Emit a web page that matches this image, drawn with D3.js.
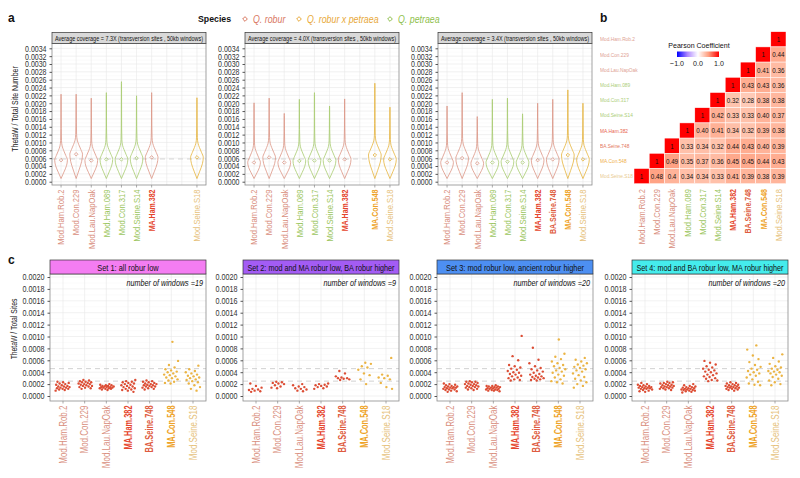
<!DOCTYPE html>
<html>
<head>
<meta charset="utf-8" />
<title>ThetaW diversity</title>
<script src="https://d3js.org/d3.v7.min.js"></script>
<style>
body { margin: 0; background: white; }
svg { display: block; font-family: "Liberation Sans", Arial, sans-serif; }
.gmaj { stroke: #e8e8e8; stroke-width: 0.6; }
.gmin { stroke: #f4f4f4; stroke-width: 0.4; }
.tick text { fill: #333; }
.tick line { stroke: #555; }
</style>
</head>
<body>
<div id="chart"></div>
<script>
// sample order used in panels a and b
var samples = ["Mod.Ham.Rob.2", "Mod.Con.229", "Mod.Lau.NapOak", "Mod.Ham.089", "Mod.Con.317",
               "Mod.Seine.S14", "MA.Ham.382", "BA.Seine.748", "MA.Con.548", "Mod.Seine.S18"];
// panel c only uses the robur and hybrid samples
var setSamples = ["Mod.Ham.Rob.2", "Mod.Con.229", "Mod.Lau.NapOak", "MA.Ham.382", "BA.Seine.748", "MA.Con.548", "Mod.Seine.S18"];

var speciesNames = ["Q. robur", "Q. robur x petraea", "Q. petraea"];

// panel a : one entry per coverage, null = sample absent
var coverages = ["7.3X", "4.0X", "3.4X"];
var violinMean = [
  [0.00055, 0.00070, 0.00054, 0.00057, 0.00057, 0.00060, 0.00062, null, null, 0.00062],
  [0.00049, 0.00062, 0.00049, 0.00053, 0.00054, 0.00054, 0.00057, null, 0.00068, 0.00057],
  [0.00049, 0.00060, 0.00047, 0.00049, 0.00051, 0.00049, 0.00055, 0.00057, 0.00068, 0.00057]
];
var violinMax = [
  [0.00223, 0.00223, 0.00213, 0.00227, 0.00255, 0.00219, 0.00227, null, null, 0.00214],
  [0.00201, 0.00213, 0.00174, 0.00210, 0.00227, 0.00193, 0.00211, null, 0.00251, 0.00190],
  [0.00193, 0.00227, 0.00166, 0.00210, 0.00213, 0.00173, 0.00200, 0.00210, 0.00234, 0.00200]
];
var violinMin = 0.00008;
var refLineA = 0.00058;

// panel b : lower triangle, row r starts at column 9 - r
var corrRows = [
  ["1"],
  ["1", "0.44"],
  ["1", "0.41", "0.36"],
  ["1", "0.43", "0.43", "0.36"],
  ["1", "0.32", "0.28", "0.38", "0.38"],
  ["1", "0.42", "0.33", "0.33", "0.40", "0.37"],
  ["1", "0.40", "0.41", "0.34", "0.32", "0.39", "0.38"],
  ["1", "0.33", "0.34", "0.32", "0.44", "0.43", "0.40", "0.39"],
  ["1", "0.49", "0.35", "0.37", "0.36", "0.45", "0.45", "0.44", "0.43"],
  ["1", "0.48", "0.4", "0.34", "0.34", "0.33", "0.41", "0.39", "0.38", "0.39"]
];

// panel c
var setTitles = ["Set 1: all robur low", "Set 2: mod and MA robur low, BA robur higher",
                 "Set 3: mod robur low, ancient robur higher", "Set 4: mod and BA robur low, MA robur higher"];
var setWindows = [19, 9, 20, 20];
var refLinesC = [0.00046, 0.00025];

var set1 = [
  [0.00009,0.00010,0.00011,0.00012,0.00012,0.00013,0.00014,0.00014,0.00015,0.00016,0.00016,0.00017,0.00018,0.00019,0.00020,0.00021,0.00022,0.00023,0.00024],
  [0.00012,0.00013,0.00014,0.00015,0.00016,0.00017,0.00017,0.00018,0.00019,0.00020,0.00020,0.00021,0.00022,0.00023,0.00023,0.00024,0.00025,0.00026,0.00027],
  [0.00010,0.00011,0.00012,0.00012,0.00013,0.00013,0.00014,0.00014,0.00015,0.00015,0.00015,0.00016,0.00016,0.00017,0.00017,0.00018,0.00018,0.00019,0.00020],
  [0.00007,0.00009,0.00010,0.00011,0.00012,0.00013,0.00014,0.00015,0.00016,0.00017,0.00018,0.00019,0.00020,0.00021,0.00022,0.00023,0.00024,0.00025,0.00027],
  [0.00011,0.00012,0.00013,0.00014,0.00015,0.00016,0.00016,0.00017,0.00018,0.00018,0.00019,0.00020,0.00020,0.00021,0.00022,0.00023,0.00024,0.00025,0.00026],
  [0.00021,0.00022,0.00024,0.00026,0.00028,0.00030,0.00031,0.00033,0.00035,0.00036,0.00038,0.00040,0.00041,0.00043,0.00045,0.00048,0.00052,0.00059,0.00091],
  [0.00009,0.00012,0.00015,0.00018,0.00021,0.00023,0.00025,0.00027,0.00028,0.00030,0.00031,0.00033,0.00034,0.00036,0.00038,0.00040,0.00042,0.00045,0.00051]
];
var set2 = [
  [0.00007,0.00008,0.00009,0.00010,0.00011,0.00012,0.00014,0.00017,0.00021],
  [0.00013,0.00014,0.00016,0.00018,0.00020,0.00021,0.00022,0.00023,0.00024],
  [0.00008,0.00009,0.00011,0.00012,0.00013,0.00015,0.00016,0.00018,0.00020],
  [0.00012,0.00013,0.00015,0.00016,0.00017,0.00018,0.00019,0.00020,0.00021],
  [0.00027,0.00028,0.00029,0.00030,0.00030,0.00031,0.00033,0.00038,0.00042],
  [0.00020,0.00028,0.00035,0.00038,0.00044,0.00048,0.00050,0.00054,0.00056],
  [0.00012,0.00015,0.00022,0.00028,0.00030,0.00031,0.00034,0.00036,0.00064]
];
var set3 = [
  [0.00007,0.00008,0.00009,0.00010,0.00011,0.00011,0.00012,0.00013,0.00013,0.00014,0.00014,0.00015,0.00015,0.00016,0.00016,0.00017,0.00018,0.00019,0.00020,0.00021],
  [0.00010,0.00011,0.00012,0.00013,0.00014,0.00015,0.00015,0.00016,0.00017,0.00017,0.00018,0.00019,0.00020,0.00020,0.00021,0.00022,0.00023,0.00024,0.00024,0.00025],
  [0.00008,0.00009,0.00009,0.00010,0.00010,0.00011,0.00011,0.00012,0.00012,0.00013,0.00013,0.00014,0.00014,0.00015,0.00015,0.00016,0.00016,0.00017,0.00017,0.00018],
  [0.00026,0.00027,0.00028,0.00030,0.00031,0.00033,0.00034,0.00036,0.00037,0.00039,0.00040,0.00042,0.00044,0.00046,0.00048,0.00050,0.00052,0.00060,0.00067,0.00101],
  [0.00026,0.00027,0.00028,0.00029,0.00030,0.00031,0.00032,0.00033,0.00034,0.00036,0.00037,0.00039,0.00041,0.00043,0.00045,0.00047,0.00050,0.00055,0.00061,0.00081],
  [0.00021,0.00023,0.00025,0.00028,0.00031,0.00034,0.00036,0.00039,0.00041,0.00043,0.00045,0.00047,0.00050,0.00052,0.00055,0.00058,0.00062,0.00066,0.00071,0.00095],
  [0.00014,0.00017,0.00020,0.00023,0.00026,0.00029,0.00032,0.00035,0.00038,0.00041,0.00043,0.00045,0.00047,0.00049,0.00051,0.00053,0.00055,0.00058,0.00061,0.00064]
];
var set4 = [
  [0.00007,0.00008,0.00009,0.00010,0.00011,0.00012,0.00012,0.00013,0.00013,0.00014,0.00014,0.00015,0.00015,0.00016,0.00017,0.00017,0.00018,0.00019,0.00020,0.00022],
  [0.00010,0.00011,0.00012,0.00013,0.00013,0.00014,0.00015,0.00015,0.00016,0.00016,0.00017,0.00018,0.00018,0.00019,0.00020,0.00021,0.00022,0.00022,0.00023,0.00024],
  [0.00006,0.00007,0.00008,0.00009,0.00009,0.00010,0.00010,0.00011,0.00011,0.00012,0.00012,0.00013,0.00013,0.00014,0.00015,0.00015,0.00016,0.00017,0.00018,0.00020],
  [0.00025,0.00026,0.00027,0.00029,0.00030,0.00032,0.00033,0.00035,0.00036,0.00038,0.00040,0.00041,0.00043,0.00044,0.00046,0.00048,0.00050,0.00053,0.00056,0.00059],
  [0.00009,0.00010,0.00011,0.00012,0.00012,0.00013,0.00014,0.00014,0.00015,0.00015,0.00016,0.00016,0.00017,0.00018,0.00018,0.00019,0.00020,0.00021,0.00022,0.00023],
  [0.00018,0.00019,0.00021,0.00024,0.00028,0.00031,0.00034,0.00036,0.00038,0.00040,0.00042,0.00044,0.00046,0.00049,0.00052,0.00057,0.00062,0.00068,0.00078,0.00085],
  [0.00018,0.00020,0.00023,0.00026,0.00029,0.00032,0.00034,0.00036,0.00038,0.00040,0.00041,0.00042,0.00044,0.00046,0.00048,0.00050,0.00054,0.00058,0.00064,0.00070]
];
var setValues = [set1, set2, set3, set4];

/* colours */
var speciesOf = {
  "Mod.Ham.Rob.2": "robur", "Mod.Con.229": "robur", "Mod.Lau.NapOak": "robur",
  "Mod.Ham.089": "petraea", "Mod.Con.317": "petraea", "Mod.Seine.S14": "petraea",
  "MA.Ham.382": "robur", "BA.Seine.748": "robur", "MA.Con.548": "hybrid", "Mod.Seine.S18": "hybrid"
};
var violinColour = { robur: "#dc9585", hybrid: "#e6b43c", petraea: "#a8cc70" };
var legendColour = ["#d9775f", "#e8a93a", "#8fbf4d"];
var labelColour = {
  "Mod.Ham.Rob.2": "#d98f80", "Mod.Con.229": "#d98f80", "Mod.Lau.NapOak": "#d98f80",
  "Mod.Ham.089": "#9cc660", "Mod.Con.317": "#9cc660", "Mod.Seine.S14": "#9cc660",
  "MA.Ham.382": "#e5452c", "BA.Seine.748": "#de5c40", "MA.Con.548": "#eea328", "Mod.Seine.S18": "#e6c27c"
};
function isAncient(s) { return s.indexOf("MA.") === 0 || s.indexOf("BA.") === 0; }
var dotColour = function (s) { return speciesOf[s] === "hybrid" ? "#ebb444" : "#dc4d34"; };
var stripColour = ["#f47df2", "#a35cf4", "#4d8ff2", "#45ecec"];

// the figure's type is narrow: squeeze each text along its baseline
function condense(sel, f) {
  sel.each(function () {
    var len = this.getComputedTextLength();
    d3.select(this).attr("textLength", len * f).attr("lengthAdjust", "spacingAndGlyphs");
  });
  return sel;
}

var W = 800, H = 478;
var svg = d3.select("#chart").append("svg").attr("width", W).attr("height", H);
svg.append("rect").attr("width", W).attr("height", H).attr("fill", "white");

/* panel letters */
[["a", 8, 22], ["b", 600, 22], ["c", 8, 264]].forEach(function (p) {
  svg.append("text").attr("x", p[1]).attr("y", p[2]).text(p[0])
    .style("font-weight", "bold").style("font-size", "12px").attr("fill", "#111");
});

/* species legend */
var leg = svg.append("g");
condense(leg.append("text").attr("x", 198).attr("y", 22).text("Species")
  .style("font-weight", "bold").style("font-size", "9.5px").attr("fill", "#111"), 0.92);
var legX = [245, 299, 390];
speciesNames.forEach(function (n, i) {
  leg.append("path").attr("d", d3.symbol(d3.symbolDiamond2, 14)())
    .attr("transform", "translate(" + legX[i] + ",19)")
    .attr("fill", "none").attr("stroke", legendColour[i]).attr("stroke-width", 1);
  condense(leg.append("text").attr("x", legX[i] + 8).attr("y", 22.5).text(n)
    .style("font-style", "italic").style("font-size", "10.5px").attr("fill", legendColour[i]), 0.84);
});

function rotLabel(g, s, x, y, size) {
  var t = g.append("text").attr("transform", "translate(" + x + "," + y + ") rotate(-90)")
    .attr("text-anchor", "end").attr("dy", "0.35em").text(s)
    .style("font-size", size + "px")
    .style("font-weight", isAncient(s) ? "bold" : "normal")
    .attr("fill", labelColour[s]);
  condense(t, isAncient(s) ? 0.74 : 0.8);
}

function drawFrame(g, left, right, top, bottom, y, ticks, minors, x, cats) {
  minors.forEach(function (v) {
    g.append("line").attr("class", "gmin").attr("x1", left).attr("x2", right).attr("y1", y(v)).attr("y2", y(v));
  });
  ticks.forEach(function (v) {
    g.append("line").attr("class", "gmaj").attr("x1", left).attr("x2", right).attr("y1", y(v)).attr("y2", y(v));
  });
  cats.forEach(function (c) {
    g.append("line").attr("class", "gmaj").attr("x1", x(c)).attr("x2", x(c)).attr("y1", top).attr("y2", bottom);
  });
}

/* ---------- panel a : violins ---------- */
var aLeft = [52, 245, 438], aWidth = 154, aTop = 43.5, aBottom = 185;
var yA = d3.scaleLinear().domain([0, 0.0034]).range([181.7, 48.3]);
var aTicks = d3.range(0, 0.00341, 0.0002);
var aMinor = d3.range(0.0001, 0.0034, 0.0002);
// relative width above the mode (offset in ThetaW units, fraction of max width)
var upperShape = [[0.00012, 0.74], [0.00025, 0.40], [0.00036, 0.17], [0.0005, 0.07], [0.0008, 0.03]];
var lowerShape = [[0, 0], [0.35, 0.45], [0.7, 0.86], [1, 1]];

coverages.forEach(function (cov, p) {
  var left = aLeft[p], right = left + aWidth;
  var g = svg.append("g");
  var x = d3.scalePoint().domain(samples).range([left, right]).padding(0.6);
  drawFrame(g, left, right, aTop, aBottom, yA, aTicks, aMinor, x, samples);
  g.append("line").attr("x1", left).attr("x2", right).attr("y1", yA(refLineA)).attr("y2", yA(refLineA))
    .attr("stroke", "#cfcfcf").attr("stroke-width", 0.9).attr("stroke-dasharray", "5,4");

  var half = x.step() * 0.42;
  samples.forEach(function (s, i) {
    var m = violinMean[p][i], mx = violinMax[p][i];
    if (m === null) return;
    var pts = lowerShape.map(function (d) { return { v: violinMin + d[0] * (m - violinMin), w: d[1] }; });
    upperShape.forEach(function (d) { pts.push({ v: m + d[0], w: d[1] }); });
    pts.push({ v: mx - 0.00005, w: 0.015 });
    pts.push({ v: mx, w: 0 });
    var area = d3.area().y(function (d) { return yA(d.v); })
      .x0(function (d) { return x(s) - half * d.w; })
      .x1(function (d) { return x(s) + half * d.w; })
      .curve(d3.curveMonotoneY);
    var col = violinColour[speciesOf[s]];
    g.append("path").attr("d", area(pts)).attr("fill", "none").attr("stroke", col).attr("stroke-width", 0.8);
    g.append("path").attr("d", d3.symbol(d3.symbolDiamond2, 8)())
      .attr("transform", "translate(" + x(s) + "," + yA(m) + ")")
      .attr("fill", "none").attr("stroke", col).attr("stroke-width", 0.8);
    g.append("line").attr("x1", x(s)).attr("x2", x(s)).attr("y1", aBottom).attr("y2", aBottom + 2.5).attr("stroke", "#555").attr("stroke-width", 0.5);
    rotLabel(g, s, x(s), aBottom + 4.5, 9.5);
  });
  g.append("rect").attr("x", left).attr("y", aTop).attr("width", aWidth).attr("height", aBottom - aTop)
    .attr("fill", "none").attr("stroke", "#8c8c8c").attr("stroke-width", 0.8);
  // strip
  g.append("rect").attr("x", left).attr("y", 32.5).attr("width", aWidth).attr("height", 11)
    .attr("fill", "#d9d9d9").attr("stroke", "#333").attr("stroke-width", 0.7);
  g.append("text").attr("x", left + 3).attr("y", 41)
    .attr("textLength", aWidth - 6).attr("lengthAdjust", "spacingAndGlyphs")
    .text("Average coverage = " + cov + " (transversion sites , 50kb windows)")
    .style("font-size", "7.5px").attr("fill", "#111");
  var ax = g.append("g").attr("transform", "translate(" + left + ",0)")
    .call(d3.axisLeft(yA).tickValues(aTicks).tickFormat(d3.format(".4f")).tickSize(2.5));
  ax.select(".domain").remove();
  condense(ax.selectAll("text").style("font-size", "9px").attr("fill", "#666"), 0.78);
});
condense(svg.append("text").attr("transform", "translate(18,109) rotate(-90)").attr("text-anchor", "middle")
  .text("ThetaW / Total Site Number").style("font-size", "8.5px").attr("fill", "#222"), 0.82);

/* ---------- panel b : correlation heatmap ---------- */
var hLeft = 634, hTop = 31.7, cell = 15.2;
var hx = d3.scaleBand().domain(samples).range([hLeft, hLeft + cell * 10]);
var hy = d3.scaleBand().domain(samples).range([hTop, hTop + cell * 10]);
var heatFill = d3.scaleLinear().domain([-1, 0, 1]).range(["#0000ff", "#ffffff", "#ff0000"]).interpolate(d3.interpolateLab);
var hb = svg.append("g");
corrRows.forEach(function (row, r) {
  row.forEach(function (t, k) {
    var c = 9 - r + k;
    var cx = hx(samples[c]), cy = hy(samples[r]);
    hb.append("rect").attr("x", cx).attr("y", cy).attr("width", cell).attr("height", cell)
      .attr("fill", heatFill(+t)).attr("stroke", "white").attr("stroke-width", 0.5);
    condense(hb.append("text").attr("x", cx + cell / 2).attr("y", cy + cell / 2).attr("dy", "0.35em")
      .attr("text-anchor", "middle").text(t).style("font-size", "8px").attr("fill", "#111"), 0.78);
  });
});
samples.forEach(function (s) {
  condense(hb.append("text").attr("x", 600).attr("y", hy(s) + cell / 2).attr("dy", "0.35em").text(s)
    .style("font-size", "6px").attr("fill", labelColour[s]).style("font-weight", "normal").attr("opacity", 0.85), 0.8);
  rotLabel(hb, s, hx(s) + cell / 2, 189, 9.5);
});
// colour legend
var defs = svg.append("defs");
var grad = defs.append("linearGradient").attr("id", "pgrad");
[-1, -0.5, 0, 0.5, 1].forEach(function (v) {
  grad.append("stop").attr("offset", ((v + 1) / 2 * 100) + "%").attr("stop-color", heatFill(v));
});
var lgX = d3.scaleLinear().domain([-1, 1]).range([677, 719]);
condense(hb.append("text").attr("x", 699).attr("y", 47.5).attr("text-anchor", "middle").text("Pearson Coefficient")
  .style("font-size", "8px").attr("fill", "#111"), 0.88);
hb.append("rect").attr("x", lgX(-1)).attr("y", 51.5).attr("width", lgX(1) - lgX(-1)).attr("height", 5.5).attr("fill", "url(#pgrad)");
[-1, 0, 1].forEach(function (v) {
  condense(hb.append("text").attr("x", lgX(v)).attr("y", 66).attr("text-anchor", "middle").text(d3.format(".1f")(v).replace("-", "\u2212"))
    .style("font-size", "8px").attr("fill", "#222"), 0.88);
});

/* ---------- panel c : windows per set ---------- */
var cLeft = [50, 243, 437, 632], cWidth = 156, cTop = 274, cBottom = 401;
var yC = d3.scaleLinear().domain([0, 0.002]).range([396, 277]);
var cTicks = d3.range(0, 0.00201, 0.0002);
var cMinor = d3.range(0.0001, 0.002, 0.0002);
setTitles.forEach(function (title, p) {
  var left = cLeft[p], right = left + cWidth;
  var g = svg.append("g");
  var x = d3.scalePoint().domain(setSamples).range([left, right]).padding(0.6);
  drawFrame(g, left, right, cTop, cBottom, yC, cTicks, cMinor, x, setSamples);
  refLinesC.forEach(function (v) {
    g.append("line").attr("x1", left).attr("x2", right).attr("y1", yC(v)).attr("y2", yC(v))
      .attr("stroke", "#cccccc").attr("stroke-width", 0.9).attr("stroke-dasharray", "5,4");
  });
  var spread = x.step() * 0.34;
  setSamples.forEach(function (s, i) {
    var vals = setValues[p][i];
    vals.forEach(function (v, j) {
      var jit = (((j * 0.618034 + i * 0.29 + p * 0.17) % 1) - 0.5) * 2 * spread;
      g.append("circle").attr("cx", x(s) + jit).attr("cy", yC(v)).attr("r", 1.2).attr("fill", dotColour(s));
    });
    g.append("line").attr("x1", x(s)).attr("x2", x(s)).attr("y1", cBottom).attr("y2", cBottom + 2.5).attr("stroke", "#555").attr("stroke-width", 0.5);
    rotLabel(g, s, x(s), cBottom + 4.5, 10);
  });
  g.append("rect").attr("x", left).attr("y", cTop).attr("width", cWidth).attr("height", cBottom - cTop)
    .attr("fill", "none").attr("stroke", "#8c8c8c").attr("stroke-width", 0.8);
  condense(g.append("text").attr("x", right - 3).attr("y", 285.5).attr("text-anchor", "end")
    .text("number of windows =" + setWindows[p]).style("font-style", "italic").style("font-size", "8.5px").attr("fill", "#111"), 0.85);
  g.append("rect").attr("x", left).attr("y", 260).attr("width", cWidth).attr("height", 14)
    .attr("fill", stripColour[p]).attr("stroke", "#333").attr("stroke-width", 0.7);
  var st = g.append("text").attr("x", left + cWidth / 2).attr("y", 270.8).attr("text-anchor", "middle")
    .text(title).style("font-size", "9.5px").attr("fill", "#111");
  condense(st, Math.min(0.78, (cWidth - 9) / st.node().getComputedTextLength()));
  var ax = g.append("g").attr("transform", "translate(" + left + ",0)")
    .call(d3.axisLeft(yC).tickValues(cTicks).tickFormat(d3.format(".4f")).tickSize(2.5));
  ax.select(".domain").remove();
  condense(ax.selectAll("text").style("font-size", "9px").attr("fill", "#222"), 0.8);
});
condense(svg.append("text").attr("transform", "translate(17,329) rotate(-90)").attr("text-anchor", "middle")
  .text("ThetaW / Total Sites").style("font-size", "8.5px").attr("fill", "#222"), 0.8);
</script>
</body>
</html>
